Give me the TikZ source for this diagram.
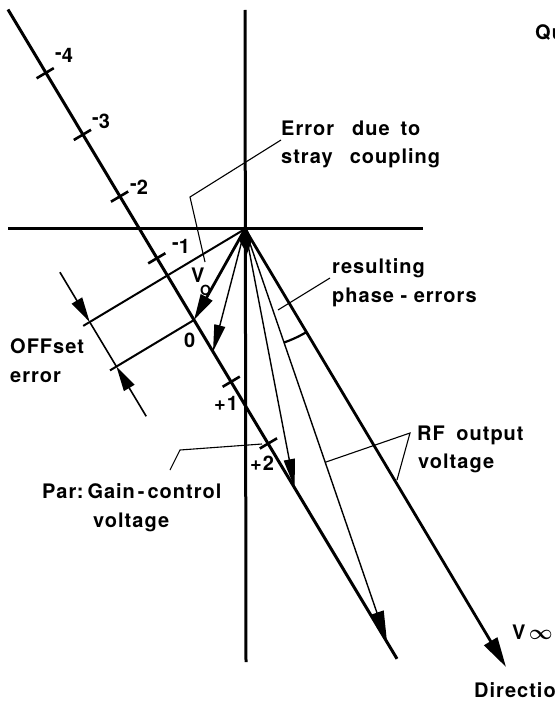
\documentclass[tikz,border=0pt]{standalone}
\usepackage{amsmath}
\usepackage{fontspec}
\setmainfont{TeX Gyre Heros}[LetterSpace=5, WordSpace=1]
\usetikzlibrary{arrows.meta, calc}
\tikzset{
  axisline/.style={line width=3pt},
  vecthick/.style={line width=2.8pt},
  vecthin/.style={line width=1.4pt},
  extline/.style={line width=2pt},
  leader/.style={line width=1.1pt},
  lbl/.style={anchor=base west, inner sep=0pt, font=\fontsize{20}{24}\selectfont\bfseries},
  tickmark/.style={line width=2.6pt},
}
\newcommand{\rmin}{\raisebox{3.5pt}{-}}
\begin{document}
\begin{tikzpicture}[x=1pt, y=-1pt]
\useasboundingbox (0,0) rectangle (554,701);
% key points
\coordinate (O) at (245,229);
\coordinate (vt) at (245,10);
\coordinate (vb) at (246,662);
\coordinate (hl) at (8,228);
\coordinate (hr) at (423,228);
\coordinate (sA) at (8,9.5);
\coordinate (sB) at (397,658.8);
\coordinate (P0) at (194,320);
% axes and scale line
\draw[axisline] (vt) -- (vb);
\draw[axisline] (hl) -- (hr);
\draw[axisline] (sA) -- (sB);
% ticks
\foreach \k in {-4,-3,-2,-1,1,2} {
  \coordinate (tk\k) at ({194+37.2*\k},{320+61.7*\k});
  \draw[tickmark] ($(tk\k)+(-8.6,5.1)$) -- ($(tk\k)+(8.6,-5.1)$);
}
% tick labels
\node[lbl] (l-4) at (55,63) {\rmin4};
\node[lbl] (l-3) at (92,128) {\rmin3};
\node[lbl] (l-2) at (130,194) {\rmin2};
\node[lbl] (l-1) at (172,253) {\rmin1};
\node[lbl] (l0) at (184,347) {0};
\node[lbl] (l1) at (214,410) {+1};
\node[lbl] (l2) at (250,470) {+2};
% perpendicular / extension lines
\coordinate (e1) at (83.2,325.9);
\coordinate (e2) at (110,370.4);
\draw[extline] (O) -- (e1);
\draw[extline] (P0) -- (e2);
% dimension line
\coordinate (dA) at (89.7,322);
\coordinate (dB) at (116.4,366.5);
\coordinate (dS) at (59.9,272.2);
\coordinate (dE) at (146.2,416.3);
\draw[line width=1.6pt] (dA) -- (dB);
\draw[line width=1.6pt, -{Triangle[length=25pt,width=12pt]}] (dS) -- (dA);
\draw[line width=1.6pt, -{Triangle[length=25pt,width=12pt]}] (dE) -- (dB);
% vectors
\coordinate (v2) at (213,351.7);
\coordinate (v3) at (294.7,488);
\coordinate (v4) at (387,642);
\coordinate (v5) at (506,667);
\draw[vecthick, -{Triangle[length=26pt,width=13pt]}] (O) -- (P0);
\draw[vecthin, -{Triangle[length=27pt,width=11pt]}] (O) -- (v2);
\draw[vecthin, -{Triangle[length=29pt,width=11pt]}] (O) -- (v3);
\draw[vecthin, -{Triangle[length=31pt,width=14pt]}] (O) -- (v4);
\draw[vecthick, -{Triangle[length=30pt,width=15pt]}] (O) -- (v5);
\fill (245,224) -- (239,240) -- (247,254) -- (252,240) -- cycle;
% phase error arc
\draw[line width=2.2pt] ([shift={(O)}]71:120) arc[start angle=71, end angle=59.2, radius=120];
% V0 label
\node[lbl] (V0) at (191,282) {V};
\node[lbl, font=\fontsize{14}{16}\selectfont\bfseries] (V0s) at (200,295) {O};
% texts
\node[lbl] (err1) at (281,135) {Error\hspace{18pt}due\hspace{11pt}to};
\node[lbl] (err2) at (281,163) {stray\hspace{17pt}coupling};
\node[lbl] (res1) at (332,273) {resulting};
\node[lbl] (res2) at (332,302) {phase - errors};
\node[lbl] (off1) at (10,353) {OFFset};
\node[lbl] (off2) at (10,382) {error};
\node[lbl] (rf1) at (417,440) {RF\hspace{5pt} output};
\node[lbl] (rf2) at (418,468) {voltage};
\node[lbl] (par1) at (42,498) {Par:\hspace{4pt}Gain\hspace{3pt}-\hspace{3pt}control};
\node[lbl] (par2) at (93,527) {voltage};
\node[lbl] (vinf) at (512,639) {V\,$\boldsymbol{\infty}$};
\node[lbl] (dir) at (474,697) {Directio};
\node[lbl] (qu) at (535,40) {Qu};
% leaders
\coordinate (a1) at (281,140);
\coordinate (a2) at (190,197);
\coordinate (a3) at (205,262);
\draw[leader] (a1) -- (a2) -- (a3);
\coordinate (b1) at (330,278);
\coordinate (b2) at (278,310);
\draw[leader] (b1) -- (b2);
\coordinate (c0) at (410,433);
\coordinate (c1) at (326,462);
\coordinate (c2) at (397,480);
\draw[leader] (c1) -- (c0) -- (c2);
\coordinate (p1) at (170,470);
\coordinate (p2) at (180,450);
\coordinate (p3) at (262,444);
\draw[leader] (p1) -- (p2) -- (p3);
\end{tikzpicture}
\end{document}
